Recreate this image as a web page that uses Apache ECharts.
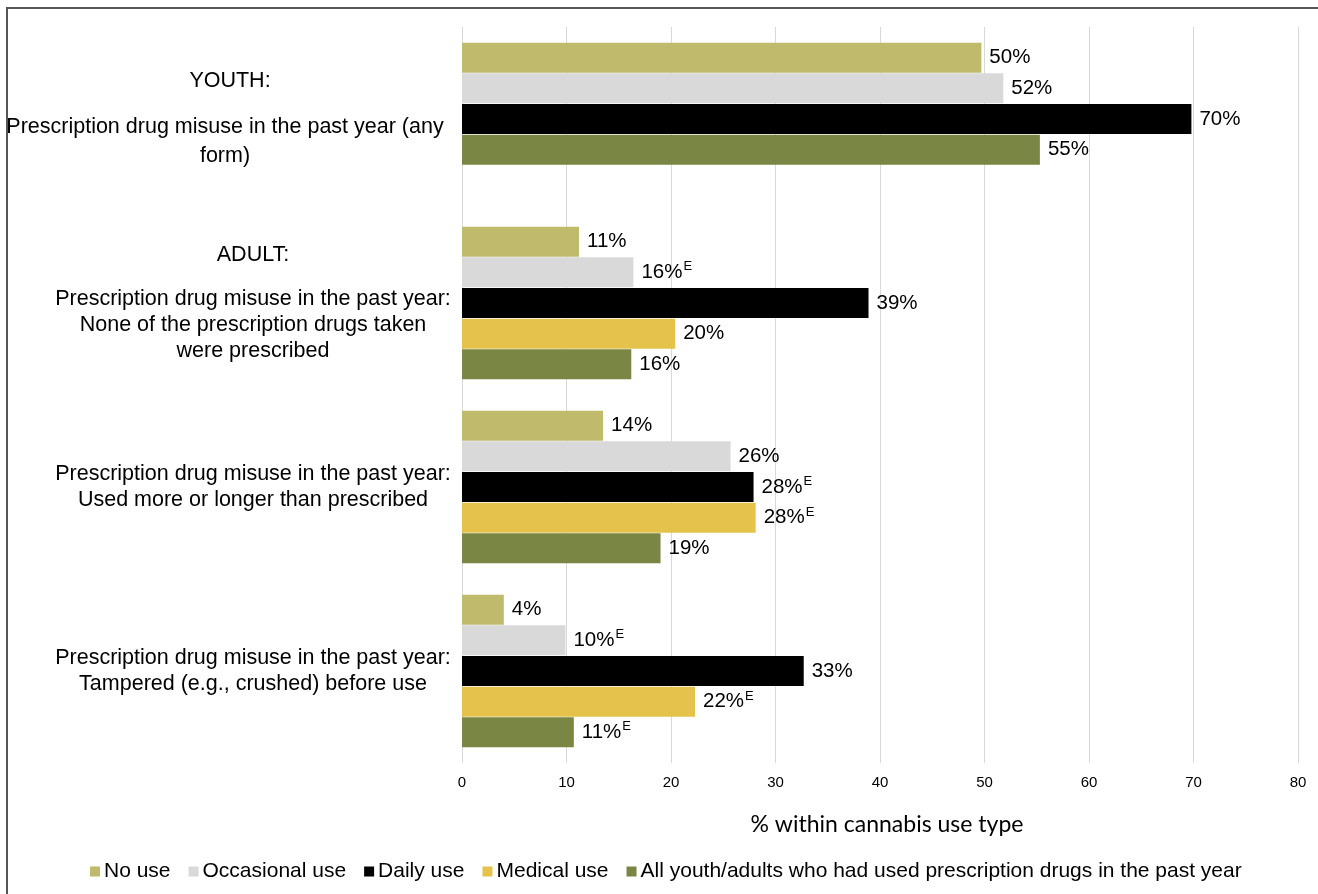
<!DOCTYPE html>
<html>
<head>
<meta charset="utf-8">
<script src="https://cdn.jsdelivr.net/npm/echarts@6/dist/echarts.min.js"></script>
<style>
  html, body { margin: 0; padding: 0; background: #fff; }
  #wrap { position: relative; width: 1318px; height: 894px; overflow: hidden; }
  #frame { position: absolute; left: 6px; top: 7px; width: 1330px; height: 910px;
           border: 2px solid #555; box-sizing: border-box; }
  #chart { position: absolute; left: 0; top: 0; width: 1318px; height: 894px; }
</style>
</head>
<body>
<div id="wrap">
  <div id="frame"></div>
  <div id="chart"></div>
</div>
<script>
// Group headers and category labels (one per band, top to bottom)
const groupHeaders = ['YOUTH:', 'ADULT:', '', ''];
const categoryLines = [
  ['Prescription drug misuse in the past year (any', 'form)'],
  ['Prescription drug misuse in the past year:', 'None of the prescription drugs taken', 'were prescribed'],
  ['Prescription drug misuse in the past year:', 'Used more or longer than prescribed'],
  ['Prescription drug misuse in the past year:', 'Tampered (e.g., crushed) before use']
];

// % within cannabis use type
const seriesNames = ['No use', 'Occasional use', 'Daily use', 'Medical use',
  'All youth/adults who had used prescription drugs in the past year'];
const noUse      = [49.7, 11.2, 13.5, 4.0];
const occasional = [51.8, 16.4, 25.7, 9.9];
const daily      = [69.8, 38.9, 27.9, 32.7];
const medical    = [null, 20.4, 28.1, 22.3];
const allUsers   = [55.3, 16.2, 19.0, 10.7];

// 1 = estimate flagged "E" (use with caution)
const noUseE      = [0, 0, 0, 0];
const occasionalE = [0, 1, 0, 1];
const dailyE      = [0, 0, 1, 0];
const medicalE    = [0, 0, 1, 1];
const allUsersE   = [0, 0, 0, 1];

const xTicks = { min: 0, max: 80, interval: 10 };

const colors = ['#C0BA6C', '#D9D9D9', '#000000', '#E5C24C', '#7A8744'];

const FONT = 'Liberation Sans, Arial, sans-serif';

function labelText(v, e) {
  return '{v|' + Math.round(v) + '%}' + (e ? '{e|E}' : '');
}

const valueLabel = {
  show: true,
  position: 'right',
  distance: 8,
  fontFamily: FONT,
  color: '#000',
  formatter: p => labelText(p.value, p.data && p.data.flag),
  rich: {
    v: { fontSize: 20.5, fontFamily: FONT, color: '#000', lineHeight: 24 },
    e: { fontSize: 13, fontFamily: FONT, color: '#000', lineHeight: 24, verticalAlign: 'top', padding: [0, 0, 10, 1] }
  }
};

function makeData(values, flags) {
  return values.map((v, i) => (v == null ? null : { value: v, flag: flags[i] }));
}

const seriesValues = [noUse, occasional, daily, medical, allUsers];
const seriesFlags = [noUseE, occasionalE, dailyE, medicalE, allUsersE];
const seriesData = seriesValues.map((vals, k) => makeData(vals, seriesFlags[k]));

// Youth have no medical-use bar: their all-users bar takes that slot so the group stays contiguous
seriesData[3][0] = { value: allUsers[0], flag: allUsersE[0], itemStyle: { color: colors[4] } };
seriesData[4][0] = null;

const series = seriesNames.map((name, k) => ({
  name: name,
  type: 'bar',
  data: seriesData[k],
  barCategoryGap: '17%',
  barGap: '2%',
  itemStyle: { color: colors[k] },
  label: valueLabel,
  emphasis: { disabled: true }
}));

function categoryLabel(i) {
  const youth = i === 0;
  const parts = [];
  if (groupHeaders[i]) {
    parts.push('{h' + (youth ? 'y' : '') + '|' + groupHeaders[i] + '}');
    parts.push('{s| }');
  }
  categoryLines[i].forEach(l => parts.push('{t' + (youth ? 'y' : '') + '|' + l + '}'));
  return parts.join('\n');
}

const textBase = { fontSize: 21.5, fontFamily: FONT, color: '#000' };

const option = {
  animation: false,
  textStyle: { fontFamily: FONT },
  grid: { left: 462, right: 20, top: 27, bottom: 131, containLabel: false },
  legend: {
    data: seriesNames,
    top: 856,
    left: 85,
    icon: 'rect',
    itemWidth: 10,
    itemHeight: 10,
    itemGap: 18,
    selectedMode: false,
    textStyle: { fontSize: 21, fontFamily: FONT, color: '#000', padding: [0, 0, 0, -1] }
  },
  xAxis: {
    type: 'value',
    min: xTicks.min,
    max: xTicks.max,
    interval: xTicks.interval,
    axisLine: { show: false },
    axisTick: { show: false },
    splitLine: { show: true, lineStyle: { color: '#D9D9D9', width: 1 } },
    axisLabel: { fontSize: 15, fontFamily: FONT, color: '#000', margin: 12 },
    name: '% within cannabis use type',
    nameLocation: 'middle',
    nameGap: 50,
    nameTextStyle: { fontSize: 23, fontFamily: 'Lato, Carlito, sans-serif', color: '#000', padding: [0, 0, 0, 14] }
  },
  yAxis: {
    type: 'category',
    inverse: true,
    data: categoryLines.map((_, i) => String(i)),
    axisLine: { show: false },
    axisTick: { show: false },
    axisLabel: {
      interval: 0,
      margin: 209,
      align: 'center',
      formatter: (v, i) => categoryLabel(i),
      rich: {
        h: Object.assign({}, textBase, { lineHeight: 26 }),
        t: Object.assign({}, textBase, { lineHeight: 26 }),
        hy: Object.assign({}, textBase, { lineHeight: 28, padding: [0, 46, 0, 0] }),
        ty: Object.assign({}, textBase, { lineHeight: 29, padding: [0, 56, 0, 0] }),
        s: { fontSize: 10, lineHeight: 18 }
      }
    }
  },
  series: series
};

const chart = echarts.init(document.getElementById('chart'), null, { renderer: 'canvas' });
chart.setOption(option);
</script>
</body>
</html>
